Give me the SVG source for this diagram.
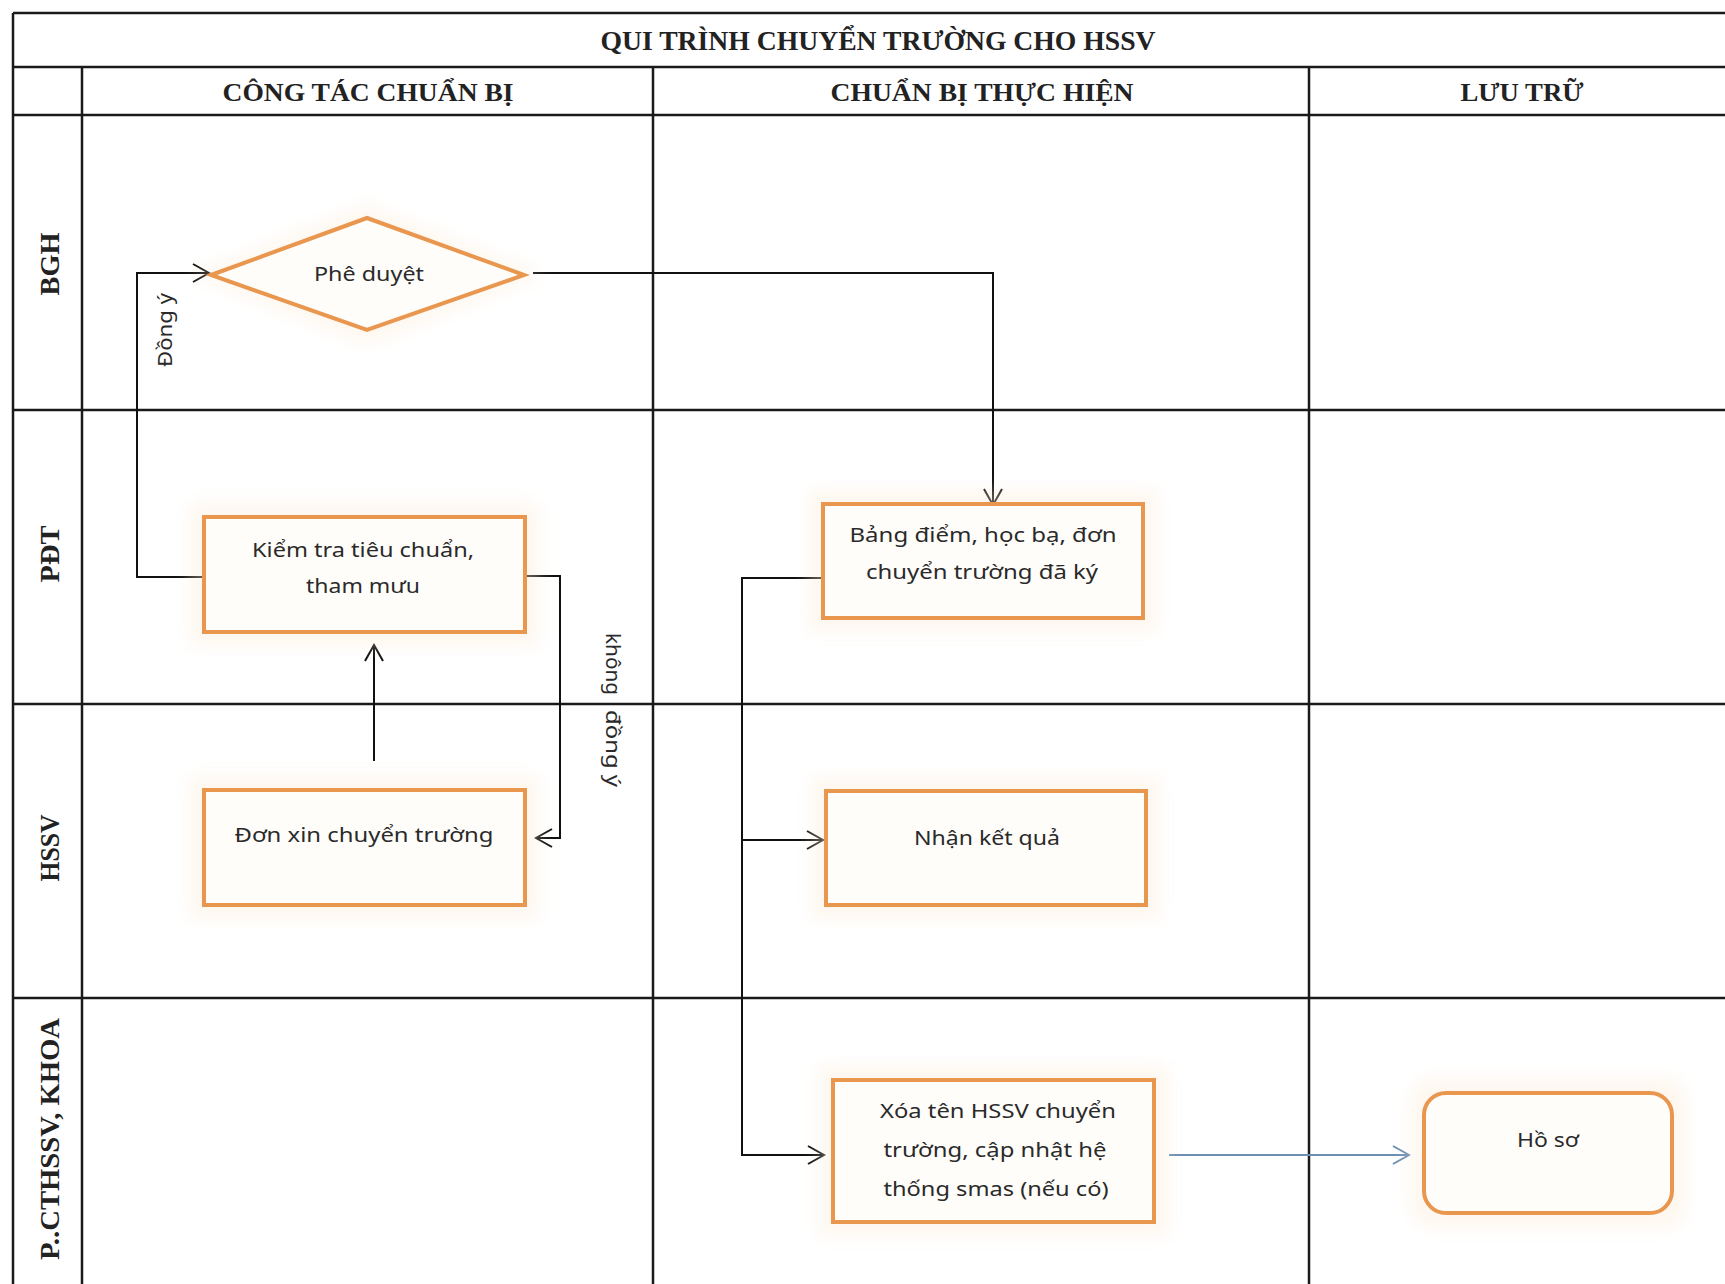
<svg xmlns="http://www.w3.org/2000/svg" width="1725" height="1284" viewBox="0 0 1725 1284">
<style>
.grid{stroke:#1a1a1a;stroke-width:2.5;fill:none}
.hdr{font-family:"Liberation Serif","Times New Roman",serif;font-weight:bold;fill:#222;text-anchor:middle}
.lane{font-family:"Liberation Serif","Times New Roman",serif;font-weight:bold;fill:#222;text-anchor:middle;dominant-baseline:central;font-size:28px}
.box{fill:#fffdfa;stroke:#e9964f;stroke-width:4}
.halo{fill:#fbe9d2;opacity:0.35}
.nt{font-family:"Noto Sans","Open Sans",sans-serif;font-size:20px;fill:#2a2a2a;text-anchor:middle}
.lbl{font-family:"Noto Sans","Open Sans",sans-serif;font-size:19px;fill:#2a2a2a;text-anchor:middle;dominant-baseline:central}
.con{stroke:#111;stroke-width:2;fill:none}
.conb{stroke:#6d8fb3;stroke-width:2;fill:none}
</style>
<defs>
<filter id="blur" x="-20%" y="-20%" width="140%" height="140%"><feGaussianBlur stdDeviation="8"/></filter>
<marker id="ah" markerUnits="userSpaceOnUse" markerWidth="20" markerHeight="22" refX="16" refY="9" orient="auto" viewBox="-2 -2 20 22">
<path d="M0,0 L16,9 L0,18" fill="none" stroke="#111" stroke-width="2"/>
</marker>
<marker id="ahb" markerUnits="userSpaceOnUse" markerWidth="20" markerHeight="22" refX="16" refY="9" orient="auto" viewBox="-2 -2 20 22">
<path d="M0,0 L16,9 L0,18" fill="none" stroke="#6d8fb3" stroke-width="2"/>
</marker>
</defs>
<rect width="1725" height="1284" fill="#ffffff"/>

<g id="table">
<path class="grid" d="M13,13 H1725 M13,67 H1725 M13,115 H1725 M13,410 H1725 M13,704 H1725 M13,998 H1725"/>
<path class="grid" d="M13,13 V1284 M82,67 V1284 M653,67 V1284 M1309,67 V1284"/>
<text class="hdr" x="878" y="50" font-size="27" textLength="555" lengthAdjust="spacingAndGlyphs">QUI TRÌNH CHUYỂN TRƯỜNG CHO HSSV</text>
<text class="hdr" x="368" y="101" font-size="26" textLength="291" lengthAdjust="spacingAndGlyphs">CÔNG TÁC CHUẨN BỊ</text>
<text class="hdr" x="982" y="101" font-size="26" textLength="303" lengthAdjust="spacingAndGlyphs">CHUẨN BỊ THỰC HIỆN</text>
<text class="hdr" x="1522" y="101" font-size="26" textLength="123" lengthAdjust="spacingAndGlyphs">LƯU TRỮ</text>
<text class="lane" transform="translate(49,264) rotate(-90)" textLength="63" lengthAdjust="spacingAndGlyphs">BGH</text>
<text class="lane" transform="translate(49,554) rotate(-90)" textLength="57" lengthAdjust="spacingAndGlyphs">PĐT</text>
<text class="lane" transform="translate(49,848) rotate(-90)" textLength="67" lengthAdjust="spacingAndGlyphs">HSSV</text>
<text class="lane" transform="translate(49,1139) rotate(-90)" textLength="242" lengthAdjust="spacingAndGlyphs">P..CTHSSV, KHOA</text>
</g>

<g id="connectors">
<path class="con" d="M204,577 H137 V273 H209" marker-end="url(#ah)"/>
<path class="con" d="M525,576 H560 V838 H536" marker-end="url(#ah)"/>
<path class="con" d="M374,761 V645" marker-end="url(#ah)"/>
<path class="con" d="M533,273 H993 V505" marker-end="url(#ah)"/>
<path class="con" d="M823,578 H742 V1155 H824" marker-end="url(#ah)"/>
<path class="con" d="M742,840 H823" marker-end="url(#ah)"/>
<path class="conb" d="M1169,1155 H1409" marker-end="url(#ahb)"/>
<text class="lbl" transform="translate(165,330) rotate(-90)" textLength="74" lengthAdjust="spacingAndGlyphs">Đồng ý</text>
<text class="lbl" transform="translate(613,711) rotate(90)" style="text-anchor:start"><tspan x="-78" textLength="62" lengthAdjust="spacingAndGlyphs">không</tspan><tspan x="-1" textLength="77" lengthAdjust="spacingAndGlyphs">đồng ý</tspan></text>
</g>

<g id="phe-duyet">
<polygon class="halo" filter="url(#blur)" points="191,275 367,205 544,275 367,345"/>
<polygon class="box" points="211,275 367,218 524,275 367,330"/>
<text class="nt" x="369" y="281" textLength="110" lengthAdjust="spacingAndGlyphs">Phê duyệt</text>
</g>

<g id="kiem-tra">
<rect class="halo" filter="url(#blur)" x="190" y="503" width="349" height="143"/>
<rect class="box" x="204" y="517" width="321" height="115"/>
<text class="nt" x="363" y="557" textLength="222" lengthAdjust="spacingAndGlyphs">Kiểm tra tiêu chuẩn,</text>
<text class="nt" x="363" y="593" textLength="114" lengthAdjust="spacingAndGlyphs">tham mưu</text>
</g>

<g id="don-xin">
<rect class="halo" filter="url(#blur)" x="190" y="776" width="349" height="143"/>
<rect class="box" x="204" y="790" width="321" height="115"/>
<text class="nt" x="364" y="842" textLength="259" lengthAdjust="spacingAndGlyphs">Đơn xin chuyển trường</text>
</g>

<g id="bang-diem">
<rect class="halo" filter="url(#blur)" x="809" y="490" width="348" height="142"/>
<rect class="box" x="823" y="504" width="320" height="114"/>
<text class="nt" x="983" y="542" textLength="267" lengthAdjust="spacingAndGlyphs">Bảng điểm, học bạ, đơn</text>
<text class="nt" x="982" y="579" textLength="232" lengthAdjust="spacingAndGlyphs">chuyển trường đã ký</text>
</g>

<g id="nhan-ket-qua">
<rect class="halo" filter="url(#blur)" x="812" y="777" width="348" height="142"/>
<rect class="box" x="826" y="791" width="320" height="114"/>
<text class="nt" x="987" y="845" textLength="146" lengthAdjust="spacingAndGlyphs">Nhận kết quả</text>
</g>

<g id="xoa-ten">
<rect class="halo" filter="url(#blur)" x="819" y="1066" width="349" height="170"/>
<rect class="box" x="833" y="1080" width="321" height="142"/>
<text class="nt" x="998" y="1118" textLength="236" lengthAdjust="spacingAndGlyphs">Xóa tên HSSV chuyển</text>
<text class="nt" x="995" y="1157" textLength="223" lengthAdjust="spacingAndGlyphs">trường, cập nhật hệ</text>
<text class="nt" x="996" y="1196" textLength="225" lengthAdjust="spacingAndGlyphs">thống smas (nếu có)</text>
</g>

<g id="ho-so">
<rect class="halo" filter="url(#blur)" x="1410" y="1078" width="277" height="150" rx="24"/>
<rect class="box" x="1424" y="1093" width="248" height="120" rx="22"/>
<text class="nt" x="1548" y="1147" textLength="62" lengthAdjust="spacingAndGlyphs">Hồ sơ</text>
</g>
</svg>
